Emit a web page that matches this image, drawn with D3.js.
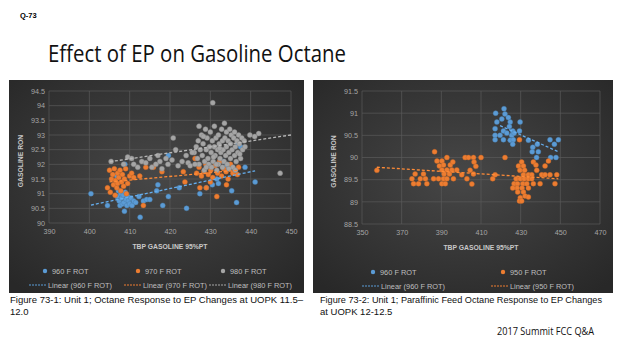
<!DOCTYPE html>
<html>
<head>
<meta charset="utf-8">
<script src="https://cdnjs.cloudflare.com/ajax/libs/d3/7.8.5/d3.min.js"></script>
<style>
  html, body { margin: 0; padding: 0; background: #fff; }
  svg { display: block; }
</style>
</head>
<body>
<div id="chart"></div>
<script>
// Figure 73-1 : 960 / 970 / 980 F ROT  (x = TBP 95%, y = RON)
const rot960A = [
  [400.4,91.0],[404.5,90.6],[406.8,91.6],[406.9,90.9],[407.2,91.1],[407.4,90.75],[407.6,90.6],
  [407.8,91.0],[408,90.85],[408.2,90.65],[408.4,90.95],[408.6,90.7],[408.7,90.4],[408.8,92.0],
  [408.9,91.05],[409.1,90.8],[409.3,90.6],[409.5,90.9],[409.7,90.75],[410,90.65],[410.3,90.85],
  [410.6,90.6],[411,90.75],[411.5,90.7],[412.6,90.2],[412.3,90.9],[413.4,90.75],[414.2,90.8],
  [415,90.8],[416.7,91.1],[417,91.3],[418.2,90.6],[419.6,92.3],[419.6,90.9],[422.3,91.2],
  [424.1,90.5],[427.4,91.0],[429,91.2],[431.6,91.5],[432,91.35],[433.2,92.1],[433.8,91.9],
  [435.3,91.1],[436.5,90.7],[436.9,92.7],[437.5,92.6],[438.6,91.9],[441.1,91.4],[430.5,91.3]
];
const rot970A = [
  [404.5,91.2],[405,91.8],[405.5,91.5],[405.8,91.65],[406,91.3],[406.2,91.85],[406.5,91.45],
  [406.8,91.2],[407,91.7],[407,91.35],[407.3,91.55],[407.6,91.8],[407.8,91.1],[408,91.4],
  [408.2,91.65],[408.5,91.25],[408.7,91.5],[409,91.85],[409.2,91.0],[409.5,91.35],[410,91.6],
  [410.5,91.7],[411,91.55],[405.2,91.05],[406.4,90.95],[412.5,91.6],[413.4,90.6],[414,91.9],
  [415.9,91.9],[418,91.75],[423.3,91.75],[423.7,91.4],[426.2,92.2],[427.4,91.2],[429,91.2],
  [431.6,90.9],[426.6,91.7],[427.2,91.9],[427.8,91.6],[428.4,91.75],[428.9,92.0],[429.5,91.65],
  [430.1,91.8],[430.6,91.55],[431.2,91.95],[431.8,91.7],[432.3,92.1],[432.8,91.6],[433.3,91.85],
  [433.9,91.75],[434.4,91.5],[435,92.0],[435.6,91.7],[436.1,91.8],[436.7,91.65],[437,91.9],
  [430,91.4],[434,91.3]
];
const rot980A = [
  [405.4,92.1],[408.5,92.0],[409.5,92.25],[410.5,92.2],[411,92.0],[412,91.9],[413,92.1],
  [414,92.05],[415,92.2],[415.5,91.9],[416.5,92.0],[417,92.3],[417.5,92.1],[418,91.85],
  [419,92.2],[419.5,92.0],[420.5,92.15],[420.8,92.9],[421.4,92.5],[422,91.95],[423,92.1],
  [424,92.3],[424.5,92.05],[425,91.95],[426,92.4],[426.5,92.6],[426.8,92.2],[427,92.8],
  [427.2,92.0],[427.5,92.5],[427.8,93.0],[428,92.3],[428.2,92.7],[428.5,91.8],[428.6,92.1],
  [428.8,93.2],[429,92.5],[429.2,92.9],[429.4,92.2],[429.6,92.0],[429.8,92.6],[430,93.1],
  [430.2,92.4],[430.3,91.9],[430.5,92.8],[430.6,94.1],[430.7,92.1],[431,92.6],[431,93.3],
  [431.2,92.3],[431.4,92.9],[431.6,91.8],[431.8,92.5],[432,92.0],[432,93.0],[432.2,92.7],
  [432.4,92.2],[432.6,92.4],[432.8,93.2],[433,92.8],[433,91.9],[433.2,92.5],[433.4,92.1],
  [433.6,92.9],[433.8,92.3],[434,92.6],[434,93.1],[434.2,92.0],[434.4,92.8],[434.6,92.4],
  [434.8,93.2],[435,92.2],[435,92.7],[435.2,93.0],[435.4,92.5],[435.6,91.9],[435.8,92.9],
  [436,92.3],[436,93.1],[436.2,92.6],[436.4,92.1],[436.6,92.8],[436.8,92.4],[437,93.0],
  [437.2,92.7],[437.5,92.2],[437.8,92.9],[438,92.5],[438.4,92.8],[438.6,92.6],[439.8,93.0],
  [441,92.95],[442,93.05],[447.3,91.7],[426.2,92.0],[425.5,92.4],[427.2,93.3],[429,91.9],
  [433.5,93.4],[436.2,91.8],[431.5,92.0],[434.6,91.85],[428.3,92.95],[430.8,92.25],
  [432.3,92.55],[437.3,92.35]
];
const trend960A = [[400.4, 90.61], [441.1, 91.78]];
const trend970A = [[405, 91.4], [437, 91.8]];
const trend980A = [[405.1, 92.09], [450, 93.0]];

// Figure 73-2 : 960 / 950 F ROT
const rot960B = [
  [417.4,91.0],[421.6,91.1],[422.1,90.98],[423.8,90.9],[418,90.8],[424.7,90.8],[429.7,90.8],
  [417.1,90.65],[421.3,90.6],[424.3,90.7],[426,90.6],[429.4,90.6],[417.1,90.5],[419.6,90.5],
  [423,90.55],[425.5,90.5],[426.7,90.55],[417.1,90.4],[421.3,90.4],[424.7,90.39],[426.3,90.4],
  [426,90.3],[433.9,90.39],[436.1,90.23],[438.4,90.3],[435.8,90.13],[438.9,90.13],[438,90.0],
  [444.8,90.4],[449,90.4],[447,90.3],[445.1,90.0],[447.8,90.0],[420.5,90.87]
];
const rot950B = [
  [357.5,89.71],[376.8,89.63],[381,89.63],[375.2,89.52],[379.4,89.52],[382,89.52],[376,89.41],
  [378.5,89.41],[382.7,89.41],[386.6,90.13],[387.8,89.92],[390.3,89.92],[392.8,90.0],
  [391.1,89.83],[389,89.81],[390.3,89.72],[392.8,89.72],[394.5,89.83],[391.4,89.63],
  [394.1,89.63],[386.1,89.52],[388.6,89.52],[391.1,89.52],[392.8,89.52],[390.3,89.41],
  [392,89.41],[395.8,89.9],[395.3,89.72],[397.8,89.72],[396.1,89.52],[402,90.0],[403.7,90.0],
  [406.2,90.0],[410,90.0],[406.5,89.9],[407.4,89.8],[404.5,89.71],[406.2,89.63],[402.9,89.52],
  [405.4,89.4],[400.3,89.61],[415.9,89.52],[417.1,89.61],[422.1,90.0],[429.4,90.4],
  [430.5,89.9],[428.9,89.81],[431.4,89.81],[429.6,89.71],[432,89.71],[431.4,89.61],
  [433.9,89.61],[435.6,89.61],[427.7,89.52],[429.8,89.52],[431.8,89.52],[433.9,89.52],
  [435.6,89.52],[426.7,89.41],[428.4,89.41],[431.1,89.41],[433.1,89.41],[428.2,89.31],
  [430.7,89.31],[433.9,89.31],[426,89.31],[428.5,89.22],[431.4,89.22],[432.2,89.13],
  [433.9,89.11],[429.8,89.09],[429.4,89.02],[430.5,89.02],[436.4,89.9],[436.4,89.41],
  [439.8,89.41],[440.6,89.61],[442.3,89.61],[444,89.92],[442.3,89.81],[444.8,89.61],
  [448.2,89.61],[447.3,89.41],[437.7,89.83],[438.1,89.71]
];
const trend960B = [[419.6, 90.72], [449, 90.13]];
const trend950B = [[357.5, 89.78], [449, 89.52]];

const xTicksA = d3.range(390, 451, 10);
const yTicksA = d3.range(90, 94.51, 0.5);
const xTicksB = d3.range(350, 471, 20);
const yTicksB = d3.range(88.5, 91.51, 0.5);

const BLUE = '#5b9bd5', ORANGE = '#ed7d31', GRAY = '#a5a5a5';

const W = 624, H = 351;
const svg = d3.select('#chart').append('svg').attr('width', W).attr('height', H);
svg.append('rect').attr('width', W).attr('height', H).attr('fill', '#fff');

// panel background gradient (dark excel style)
const grad = svg.append('defs').append('radialGradient')
  .attr('id', 'bg').attr('cx', '50%').attr('cy', '45%').attr('r', '70%');
grad.append('stop').attr('offset', '0%').attr('stop-color', '#474747');
grad.append('stop').attr('offset', '100%').attr('stop-color', '#282828');

// heading
svg.append('text').attr('x', 20).attr('y', 18)
  .attr('font-family', 'Liberation Sans, Arial, sans-serif')
  .attr('font-size', 7.5).attr('font-weight', 'bold').text('Q-73');

svg.append('text').attr('x', 48).attr('y', 62)
  .attr('font-family', 'Open Sans, sans-serif')
  .attr('font-size', 23.5).attr('fill', '#111')
  .attr('textLength', 298).attr('lengthAdjust', 'spacingAndGlyphs')
  .text('Effect of EP on Gasoline Octane');

function drawPanel(cfg) {
  const g = svg.append('g');
  g.append('rect')
    .attr('x', cfg.box[0]).attr('y', cfg.box[1])
    .attr('width', cfg.box[2]).attr('height', cfg.box[3])
    .attr('fill', 'url(#bg)');

  const x = d3.scaleLinear().domain(cfg.xDomain).range([cfg.plot[0], cfg.plot[1]]);
  const y = d3.scaleLinear().domain(cfg.yDomain).range([cfg.plot[3], cfg.plot[2]]);

  // gridlines
  g.append('g').selectAll('line').data(cfg.yTicks).join('line')
    .attr('x1', cfg.plot[0]).attr('x2', cfg.plot[1])
    .attr('y1', d => y(d)).attr('y2', d => y(d))
    .attr('stroke', '#5a5a5a').attr('stroke-width', 0.7);
  g.append('g').selectAll('line').data(cfg.xTicks).join('line')
    .attr('x1', d => x(d)).attr('x2', d => x(d))
    .attr('y1', cfg.plot[2]).attr('y2', cfg.plot[3])
    .attr('stroke', '#5a5a5a').attr('stroke-width', 0.7);

  // axes labels
  const yAxis = d3.axisLeft(y).tickValues(cfg.yTicks).tickSize(0).tickPadding(4)
    .tickFormat(d3.format('~g'));
  const xAxis = d3.axisBottom(x).tickValues(cfg.xTicks).tickSize(0).tickPadding(6)
    .tickFormat(d3.format('d'));
  [g.append('g').attr('transform', `translate(${cfg.plot[0]},0)`).call(yAxis),
   g.append('g').attr('transform', `translate(0,${cfg.plot[3]})`).call(xAxis)]
    .forEach(a => {
      a.select('.domain').remove();
      a.selectAll('text').attr('fill', '#a6a6a6').attr('font-size', 7.2)
        .attr('font-family', 'Liberation Sans, Arial, sans-serif');
    });

  g.append('text')
    .attr('x', (cfg.plot[0] + cfg.plot[1]) / 2).attr('y', cfg.plot[3] + 26)
    .attr('text-anchor', 'middle').attr('fill', '#c8c8c8')
    .attr('font-size', 6.8).attr('font-weight', 'bold')
    .attr('font-family', 'Liberation Sans, Arial, sans-serif')
    .text('TBP GASOLINE 95%PT');
  g.append('text')
    .attr('transform', `translate(${cfg.yTitleX},${(cfg.plot[2] + cfg.plot[3]) / 2 + 4}) rotate(-90)`)
    .attr('text-anchor', 'middle').attr('fill', '#c8c8c8')
    .attr('font-size', 6.8).attr('font-weight', 'bold')
    .attr('font-family', 'Liberation Sans, Arial, sans-serif')
    .text('GASOLINE RON');

  // points
  cfg.series.forEach(s => {
    g.append('g').selectAll('circle').data(s.points).join('circle')
      .attr('cx', d => x(d[0])).attr('cy', d => y(d[1])).attr('r', 2.5)
      .attr('fill', s.color).attr('stroke', d3.color(s.color).darker(0.6))
      .attr('stroke-width', 0.4);
  });

  // trendlines
  const line = d3.line().x(d => x(d[0])).y(d => y(d[1]));
  cfg.series.forEach(s => {
    g.append('path').datum(s.trend).attr('d', line)
      .attr('fill', 'none').attr('stroke', d3.color(s.color).brighter(0.3))
      .attr('stroke-width', 1.3).attr('stroke-dasharray', '3,2');
  });

  // legend
  cfg.series.forEach(s => {
    const lg = g.append('g');
    lg.append('circle').attr('cx', s.leg[0]).attr('cy', cfg.legY[0]).attr('r', 2.2)
      .attr('fill', s.color);
    lg.append('text').attr('x', s.leg[0] + 7).attr('y', cfg.legY[0] + 2.5)
      .attr('fill', '#bfbfbf').attr('font-size', 7.4)
      .attr('font-family', 'Liberation Sans, Arial, sans-serif')
      .text(s.name);
    lg.append('line').attr('x1', s.leg[1]).attr('x2', s.leg[1] + 18)
      .attr('y1', cfg.legY[1]).attr('y2', cfg.legY[1])
      .attr('stroke', s.color).attr('stroke-width', 1.2).attr('stroke-dasharray', '2,1');
    lg.append('text').attr('x', s.leg[1] + 19).attr('y', cfg.legY[1] + 2.5)
      .attr('fill', '#bfbfbf').attr('font-size', 7.4)
      .attr('font-family', 'Liberation Sans, Arial, sans-serif')
      .text(`Linear (${s.name})`);
  });
}

drawPanel({
  box: [9, 80, 295, 213],
  plot: [49, 291, 91, 223],
  xDomain: [390, 450], yDomain: [90, 94.5],
  xTicks: xTicksA, yTicks: yTicksA, yTitleX: 23,
  legY: [271, 285],
  series: [
    { name: '960 F ROT', color: BLUE, points: rot960A, trend: trend960A, leg: [45, 29] },
    { name: '970 F ROT', color: ORANGE, points: rot970A, trend: trend970A, leg: [138, 124] },
    { name: '980 F ROT', color: GRAY, points: rot980A, trend: trend980A, leg: [223, 209] }
  ]
});

drawPanel({
  box: [313, 80, 300, 213],
  plot: [362, 600, 91, 224],
  xDomain: [350, 470], yDomain: [88.5, 91.5],
  xTicks: xTicksB, yTicks: yTicksB, yTitleX: 336,
  legY: [272, 286],
  series: [
    { name: '960 F ROT', color: BLUE, points: rot960B, trend: trend960B, leg: [373, 362] },
    { name: '950 F ROT', color: ORANGE, points: rot950B, trend: trend950B, leg: [503, 491] }
  ]
});

// captions
const cap = [
  [10, 303, 'Figure 73-1: Unit 1; Octane Response to EP Changes at UOPK 11.5\u2013', 293],
  [10, 315, '12.0', null],
  [320, 303, 'Figure 73-2: Unit 1; Paraffinic Feed Octane Response to EP Changes', 282],
  [320, 315, 'at UOPK 12-12.5', null]
];
cap.forEach(c => {
  const t = svg.append('text').attr('x', c[0]).attr('y', c[1])
    .attr('font-family', 'Liberation Sans, Arial, sans-serif')
    .attr('font-size', 9.5).attr('fill', '#111').text(c[2]);
  if (c[3]) t.attr('textLength', c[3]).attr('lengthAdjust', 'spacingAndGlyphs');
});

svg.append('text').attr('x', 497).attr('y', 335)
  .attr('font-family', 'Open Sans, sans-serif')
  .attr('font-size', 11).attr('fill', '#111')
  .attr('textLength', 97).attr('lengthAdjust', 'spacingAndGlyphs')
  .text('2017 Summit FCC Q&A');
</script>
</body>
</html>
